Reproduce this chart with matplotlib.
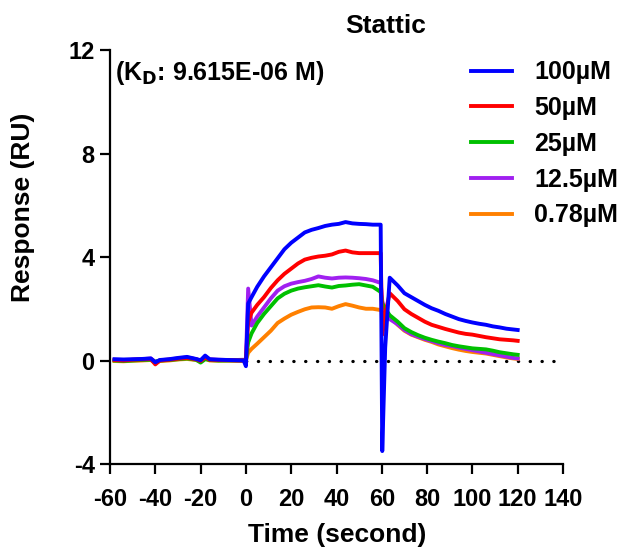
import numpy as np
import matplotlib.pyplot as plt

plt.rcParams['font.family'] = ['Liberation Sans', 'DejaVu Sans']
plt.rcParams['font.weight'] = 'bold'
plt.rcParams['mathtext.default'] = 'bf'
plt.rcParams['axes.unicode_minus'] = False

# time points (s)
t = [-58, -54, -50, -46, -42, -40, -38, -34, -30, -26, -22, -20, -18, -16, -12, -8, -4, -1, 0,
     1, 2.5,
     5, 8, 11, 14, 17, 20, 23, 26, 29, 32, 35, 38, 41, 44, 47, 50, 53, 56,
     59.5, 60.2, 61.5, 63.5,
     67, 70, 73, 76, 79, 82, 85, 88, 91, 94, 97, 100, 103, 106, 109, 112, 115, 118,
     120]

r100 = [0.05, 0.04, 0.05, 0.06, 0.08, -0.07, 0.02, 0.05, 0.1, 0.14, 0.06, 0.01, 0.19, 0.05, 0.03, 0.02, 0.01, 0.0, -0.22,
        2.2, 2.45,
        2.85, 3.25, 3.6, 3.95, 4.3, 4.55, 4.75, 4.95, 5.05, 5.12, 5.2, 5.25, 5.28, 5.35, 5.3, 5.28, 5.27, 5.25,
        5.25, -3.5, 0.5, 3.2,
        2.9, 2.6, 2.45, 2.3, 2.15, 2.02, 1.92, 1.8, 1.7, 1.6, 1.53, 1.47, 1.42, 1.38, 1.32, 1.28, 1.23, 1.2,
        1.18]
r50 = [0.02, 0.0, 0.03, 0.04, 0.06, -0.15, 0.0, 0.03, 0.07, 0.1, 0.05, -0.02, 0.12, 0.03, 0.02, 0.01, 0.0, 0.0, 0.0,
       1.5, 1.85,
       2.15, 2.45, 2.8, 3.1, 3.35, 3.55, 3.75, 3.9, 3.97, 4.02, 4.05, 4.1, 4.2, 4.25, 4.18, 4.15, 4.15, 4.15,
       4.15, 1.0, 1.8, 2.6,
       2.3, 1.98, 1.8, 1.65, 1.5, 1.38, 1.3, 1.22, 1.15, 1.08, 1.03, 1.0, 0.95, 0.9, 0.86, 0.82, 0.8, 0.78,
       0.76]
r25 = [0.0, -0.02, 0.0, 0.02, 0.03, -0.05, 0.0, 0.02, 0.05, 0.08, 0.03, -0.08, 0.05, 0.02, 0.0, 0.0, 0.0, 0.0, 0.0,
       0.7, 1.05,
       1.45, 1.8, 2.1, 2.4, 2.58, 2.7, 2.78, 2.83, 2.87, 2.91, 2.86, 2.82, 2.88, 2.9, 2.93, 2.95, 2.9, 2.85,
       2.65, 2.2, 2.0, 1.75,
       1.5, 1.25, 1.1, 0.98, 0.88, 0.8, 0.73, 0.67, 0.6, 0.55, 0.51, 0.47, 0.45, 0.43, 0.38, 0.32, 0.28, 0.24,
       0.22]
r12 = [0.03, 0.02, 0.03, 0.05, 0.08, -0.05, 0.01, 0.04, 0.08, 0.12, 0.05, 0.0, 0.15, 0.04, 0.03, 0.02, 0.02, 0.03, 0.0,
       2.78, 1.35,
       1.7, 2.05, 2.4, 2.7, 2.87, 2.97, 3.03, 3.08, 3.15, 3.25, 3.2, 3.17, 3.2, 3.21, 3.2, 3.18, 3.15, 3.1,
       3.0, 2.3, 1.9, 1.6,
       1.4, 1.18, 1.02, 0.92, 0.83, 0.75, 0.67, 0.6, 0.56, 0.5, 0.45, 0.4, 0.35, 0.3, 0.25, 0.2, 0.15, 0.1,
       0.08]
r078 = [-0.02, -0.03, -0.01, 0.0, 0.02, -0.1, -0.02, 0.0, 0.04, 0.06, 0.02, -0.03, 0.08, 0.0, -0.01, 0.0, 0.0, 0.0, 0.0,
        0.3, 0.45,
        0.65, 0.9, 1.15, 1.45, 1.62, 1.77, 1.88, 1.98, 2.05, 2.06, 2.05, 2.0, 2.1, 2.18, 2.12, 2.05, 2.0, 2.0,
        1.95, 1.9, 1.85, 1.7,
        1.38, 1.15, 1.0, 0.9, 0.8, 0.72, 0.62, 0.55, 0.48, 0.42, 0.37, 0.33, 0.3, 0.27, 0.22, 0.17, 0.12, 0.08,
        0.06]

labels = ['100µM', '50µM', '25µM', '12.5µM', '0.78µM']
series = [r100, r50, r25, r12, r078]
colors = ['#0000FF', '#FF0000', '#00C000', '#A020F0', '#FF8000']
zorders = [6, 5, 4, 3, 2]

fig = plt.figure(figsize=(6.33, 5.52), dpi=100)
ax = fig.add_axes([0.1738, 0.1594, 0.7156, 0.75])

ax.plot([0, 140], [0, 0], color='black', linewidth=2.3,
        linestyle=(0, (0.1, 3.6)), dash_capstyle='round', zorder=1)

for y, lab, c, z in zip(series, labels, colors, zorders):
    ax.plot(t, y, color=c, linewidth=2.8, label=lab, zorder=z)

ax.set_xlim(-60, 140)
ax.set_ylim(-4, 12)
ax.set_xticks(np.arange(-60, 141, 20))
ax.set_yticks([-4, 0, 4, 8, 12])
ax.spines['top'].set_visible(False)
ax.spines['right'].set_visible(False)
for s in ['left', 'bottom']:
    ax.spines[s].set_linewidth(1.6)
ax.tick_params(direction='out', length=7, width=1.6, labelsize=17, pad=4)
ax.tick_params(axis='x', pad=10)

# axis titles placed like the original (y title sits above the axis centre)
fig.text(337 / 633, 1 - 535 / 552, 'Time (second)', ha='center', va='center',
         fontsize=19, fontweight='bold')
fig.text(23 / 633, 1 - 207 / 552, 'Response (RU)', ha='center', va='center',
         rotation=90, fontsize=19, fontweight='bold')

fig.text(386 / 633, 1 - 26 / 552, 'Stattic', ha='center', va='center',
         fontsize=19, fontweight='bold')
ax.text(-58, 11.1, r'(K$_{D}$: 9.615E-06 M)', fontsize=18, fontweight='bold',
        ha='left', va='center')

handles, labs = ax.get_legend_handles_labels()
leg = ax.legend(handles, labs, loc='upper left', bbox_to_anchor=(458 / 633, 1 - 48 / 552),
                bbox_transform=fig.transFigure, frameon=False, fontsize=18,
                handlelength=1.65, handletextpad=0.9, labelspacing=0.47, borderpad=0)

fig.savefig('out.png', dpi=100)
